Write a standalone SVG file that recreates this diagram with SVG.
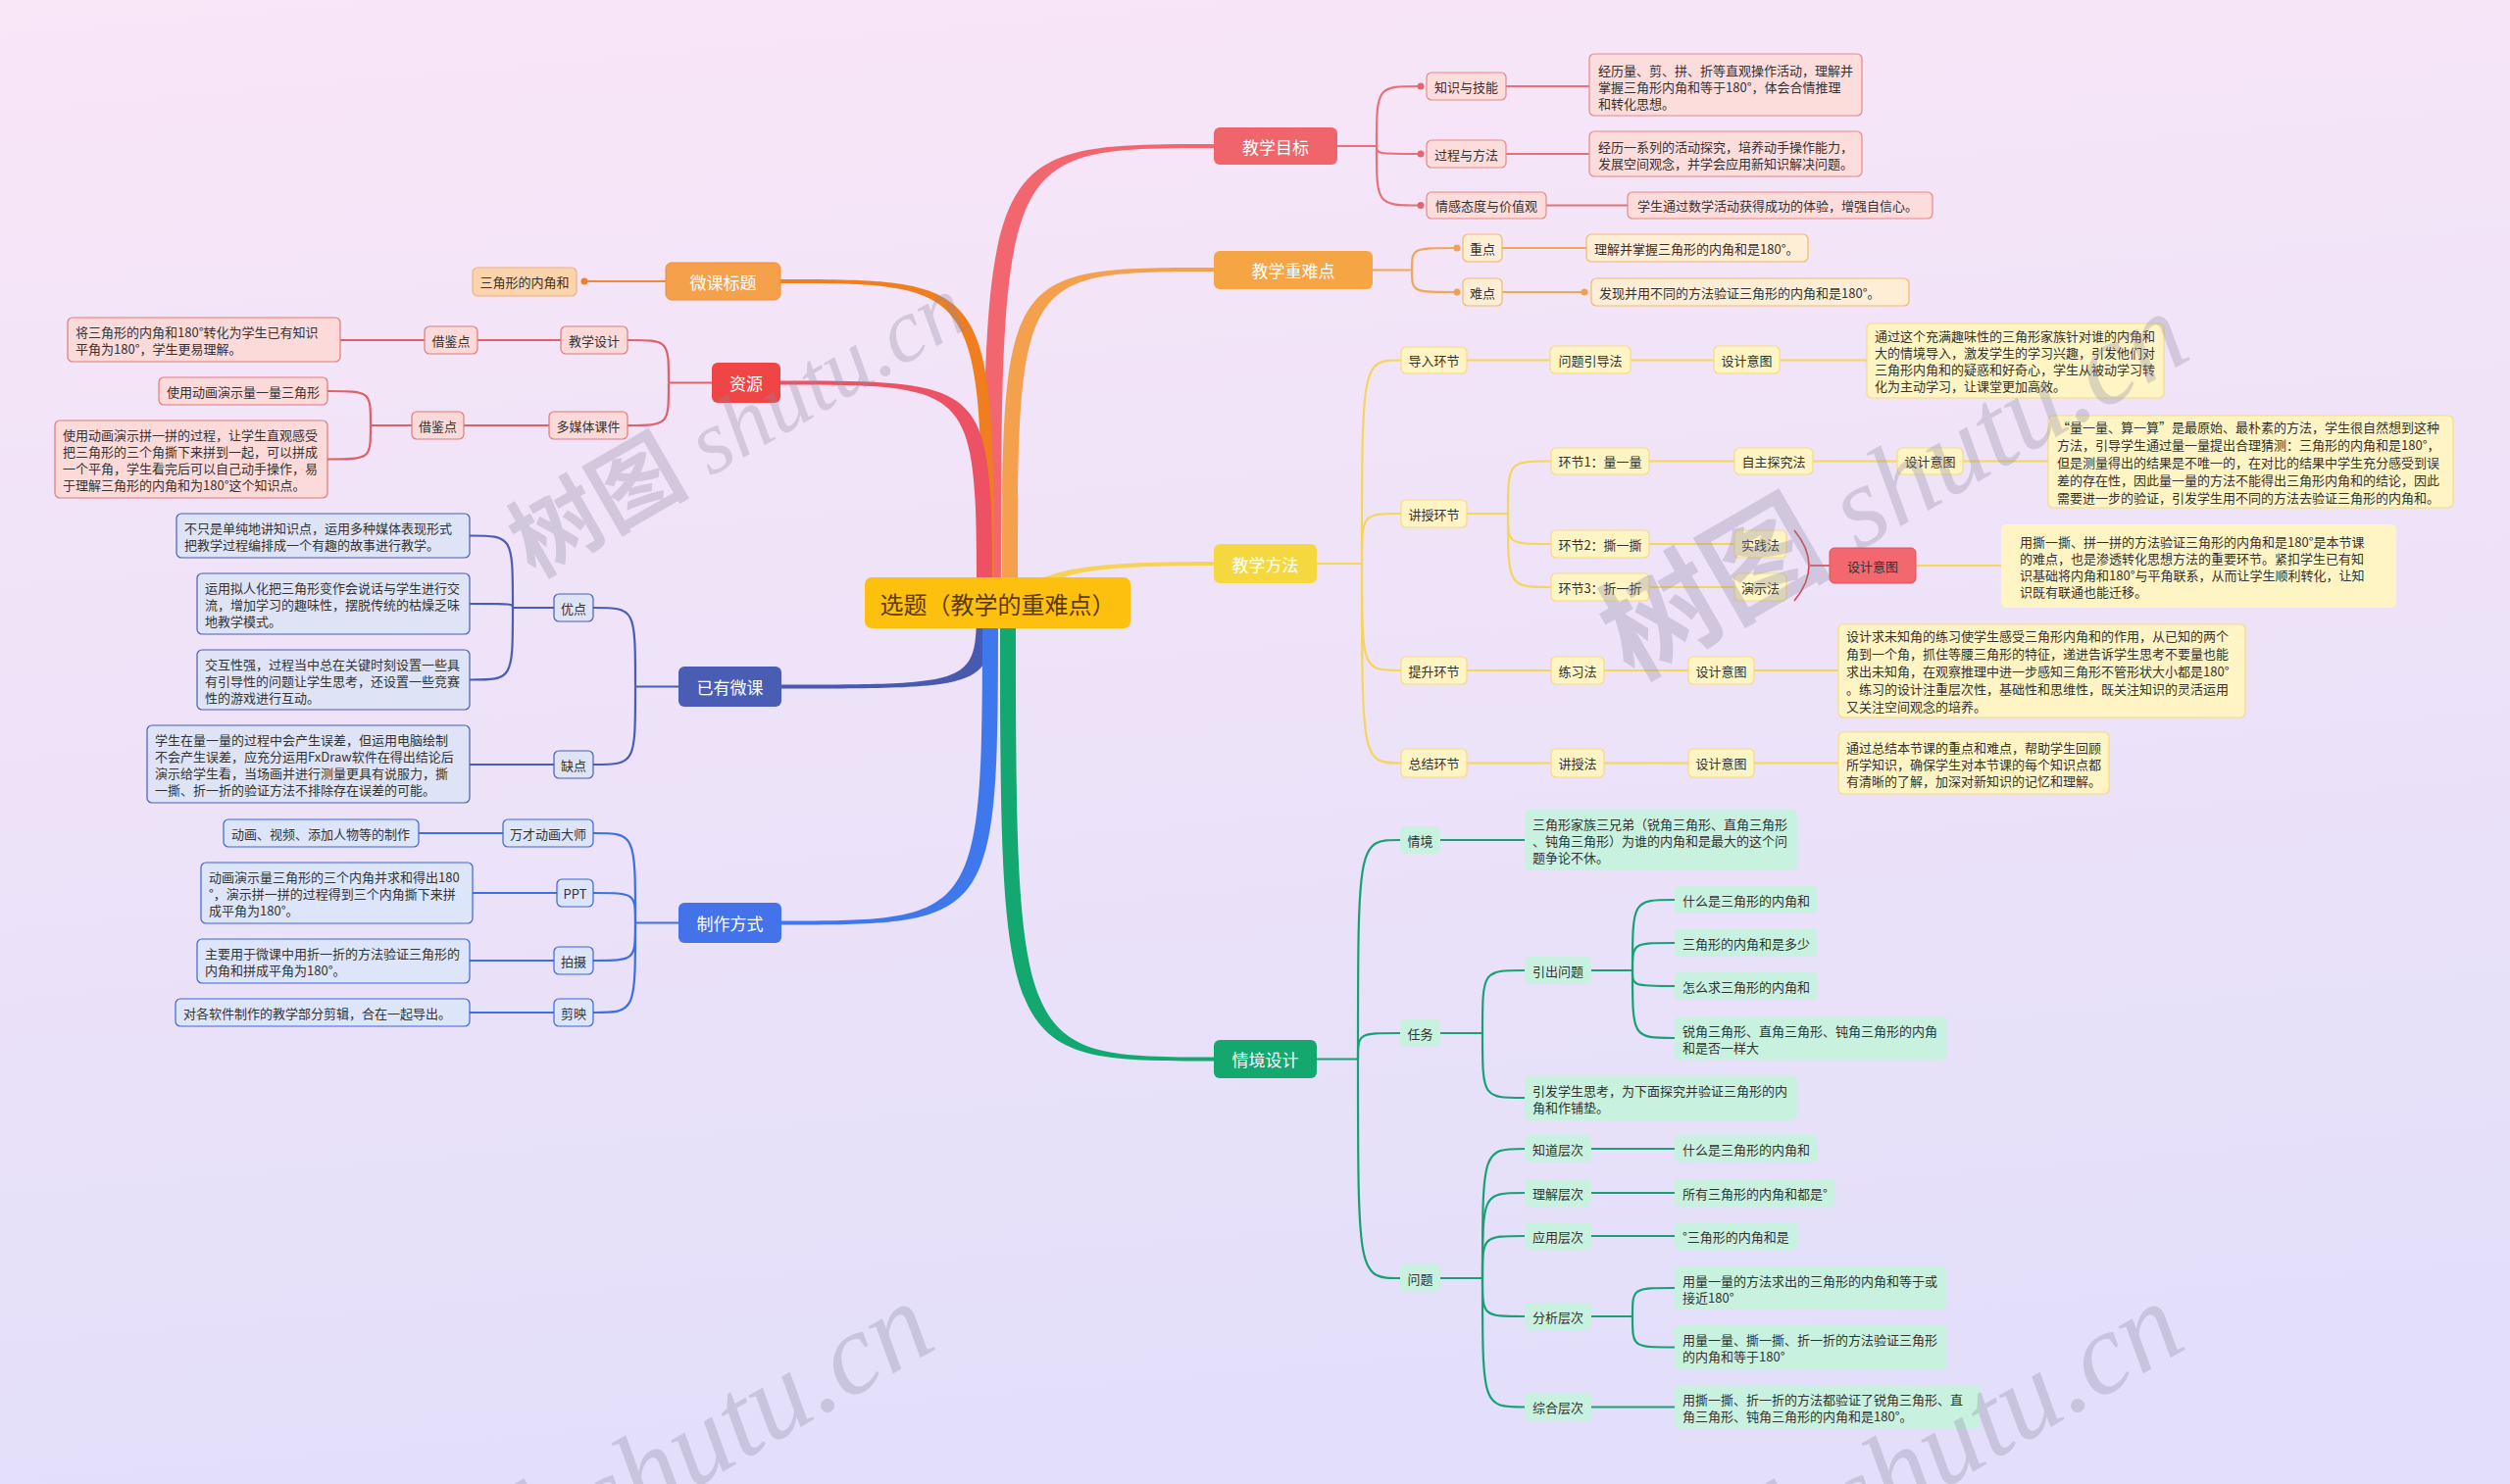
<svg xmlns="http://www.w3.org/2000/svg" width="2560" height="1514" viewBox="0 0 2560 1514">
<defs>
<linearGradient id="bg" x1="0" y1="0" x2="0.15" y2="1">
<stop offset="0" stop-color="#F9E6F7"/>
<stop offset="1" stop-color="#E3DFFA"/>
</linearGradient>
</defs>
<style>
text{font-family:"Noto Sans CJK SC","Noto Sans",sans-serif;dominant-baseline:central}
.s{font-size:13px;fill:#333}
.c{text-anchor:middle}
.m{font-size:17px;fill:#fff;text-anchor:middle}
.wm{font-family:"Liberation Serif","Noto Sans CJK SC",serif;fill:#8C88A0;opacity:0.3;dominant-baseline:alphabetic}
.wm .cj{font-family:"Noto Sans CJK SC",sans-serif;font-weight:bold}
.wm .lt{font-style:italic}
.rN{fill:#FDDCDC;stroke:#E8878A;stroke-width:1.2}
.oN{fill:#FFEED6;stroke:#F4B86A;stroke-width:1.2}
.o2N{fill:#FBD3AC;stroke:#F2B07A;stroke-width:1.2}
.yN{fill:#FFF4C4;stroke:#F5DB80;stroke-width:1.2}
.gN{fill:#C9F1DF}
.bN{fill:#DEE3F5;stroke:#4A5DB4;stroke-width:1.2}
.lN{fill:#DCE5FA;stroke:#3D66D6;stroke-width:1.2}
.rsN{fill:#FCDADA;stroke:#E07B7B;stroke-width:1.2}
.ln{fill:none;stroke-width:2.2}
.lr{stroke:#E8707A}.lo{stroke:#F2A755}.ly{stroke:#F5D55A}.lg{stroke:#16A273}
.lrs{stroke:#E0606A}.lb{stroke:#4A5DB4}.ll{stroke:#3D70E0}.lo2{stroke:#F08A3A}
</style>
<rect width="2560" height="1514" fill="url(#bg)"/>

<g id="connectors">
<path fill="#F26670" d="M1003,615 C1003,147 1003,147 1240,147 L1240,151 C1021,151 1021,151 1021,615 Z"/>
<path fill="#F4A04C" d="M1022,615 C1022,273 1022,273 1240,273 L1240,277 C1038,277 1038,277 1038,615 Z"/>
<path fill="#F07E1E" d="M1014,615 C1014,285 1014,285 794,285 L794,289 C1002,289 1002,289 1002,615 Z"/>
<path fill="#EC5264" d="M1012,615 C1012,388.5 1012,388.5 794,388.5 L794,392.5 C996,392.5 996,392.5 996,615 Z"/>
<path fill="#4859B0" d="M1012,615 C1012,702.5 1012,702.5 795,702.5 L795,698.5 C996,698.5 996,698.5 996,615 Z"/>
<path fill="#3F78EC" d="M1018,615 C1018,943.5 1018,943.5 795,943.5 L795,939.5 C1002,939.5 1002,939.5 1002,615 Z"/>
<path fill="#12A870" d="M1020,615 C1020,1082.5 1020,1082.5 1240,1082.5 L1240,1078.5 C1036,1078.5 1036,1078.5 1036,615 Z"/>
<path fill="#F6D354" d="M1044,606 C1060,579 1120,573 1240,573 L1240,577 C1125,577 1072,583 1062,606 Z"/>

<g class="ln lr">
<path d="M1364,149 H1404"/>
<path d="M1404,149 C1404,88 1404,88 1449,88"/>
<path d="M1404,149 C1404,157 1404,157 1449,157"/>
<path d="M1404,149 C1404,209.5 1404,209.5 1449,209.5"/>
<path d="M1536,88 H1621"/>
<path d="M1536,157 H1621"/>
<path d="M1577,209.5 H1660"/>
</g>
<g fill="#E06670">
<circle cx="1449" cy="88" r="3.5"/><circle cx="1449" cy="157" r="3.5"/><circle cx="1449" cy="209.5" r="3.5"/>
</g>
<g class="ln lo">
<path d="M1400,275.5 H1440"/>
<path d="M1440,275.5 C1440,253 1440,253 1486,253"/>
<path d="M1440,275.5 C1440,298 1440,298 1486,298"/>
<path d="M1532,253 H1618"/>
<path d="M1532,298 H1616"/>
</g>
<g fill="#F0A050">
<circle cx="1486" cy="253" r="3.5"/><circle cx="1486" cy="298" r="3.5"/><circle cx="1616" cy="298" r="3.5"/>
</g>
<g class="ln ly" stroke-width="2.6">
<path d="M1343,575 H1389"/>
<path d="M1389,575 C1389,367.5 1389,367.5 1429,367.5"/>
<path d="M1389,575 C1389,524 1389,524 1429,524"/>
<path d="M1389,575 C1389,684 1389,684 1429,684"/>
<path d="M1389,575 C1389,778.5 1389,778.5 1429,778.5"/>
<path d="M1496,367.5 H1581"/><path d="M1663,367.5 H1748"/><path d="M1815,367.5 H1904"/>
<path d="M1496,524 H1538"/>
<path d="M1538,524 C1538,470.5 1538,470.5 1582,470.5"/>
<path d="M1538,524 C1538,555 1538,555 1582,555"/>
<path d="M1538,524 C1538,599 1538,599 1582,599"/>
<path d="M1682,470.5 H1769"/><path d="M1849,470.5 H1935"/><path d="M2002,470.5 H2089"/>
<path d="M1682,555 H1769"/><path d="M1682,599 H1769"/>
<path d="M1954,577 H2041"/>
<path d="M1496,684 H1582"/><path d="M1636,684 H1722"/><path d="M1789,684 H1875"/>
<path d="M1496,778.5 H1582"/><path d="M1636,778.5 H1722"/><path d="M1789,778.5 H1875"/>
</g>
<path d="M1830,541 Q1860,577 1830,613" fill="none" stroke="#D9434B" stroke-width="1.6"/>
<path d="M1846,577 H1866" fill="none" stroke="#D9434B" stroke-width="1.6"/>
<g class="ln lg" stroke-width="2.6">
<path d="M1343,1080.5 H1385"/>
<path d="M1385,1080.5 C1385,857 1385,857 1428,857"/>
<path d="M1385,1080.5 C1385,1054 1385,1054 1428,1054"/>
<path d="M1385,1080.5 C1385,1304 1385,1304 1428,1304"/>
<path d="M1469,857 H1555"/>
<path d="M1469,1054 H1512"/>
<path d="M1512,1054 C1512,990 1512,990 1555,990"/>
<path d="M1512,1054 C1512,1120 1512,1120 1555,1120"/>
<path d="M1623,990 H1665"/>
<path d="M1665,990 C1665,918 1665,918 1708,918"/>
<path d="M1665,990 C1665,962 1665,962 1708,962"/>
<path d="M1665,990 C1665,1006 1665,1006 1708,1006"/>
<path d="M1665,990 C1665,1059 1665,1059 1708,1059"/>
<path d="M1469,1304 H1512"/>
<path d="M1512,1304 C1512,1172 1512,1172 1555,1172"/>
<path d="M1512,1304 C1512,1217 1512,1217 1555,1217"/>
<path d="M1512,1304 C1512,1261 1512,1261 1555,1261"/>
<path d="M1512,1304 C1512,1343 1512,1343 1555,1343"/>
<path d="M1512,1304 C1512,1435.5 1512,1435.5 1555,1435.5"/>
<path d="M1623,1172 H1708"/><path d="M1623,1217 H1708"/><path d="M1623,1261 H1708"/>
<path d="M1623,1343 H1665"/>
<path d="M1665,1343 C1665,1314 1665,1314 1708,1314"/>
<path d="M1665,1343 C1665,1374.5 1665,1374.5 1708,1374.5"/>
<path d="M1623,1435.5 H1708"/>
</g>
<path class="ln lo2" d="M679,287 H596"/>
<circle cx="596" cy="287" r="3.5" fill="#F08030"/>
<g class="ln lrs" stroke-width="2.6">
<path d="M726,390.5 H682"/>
<path d="M682,390.5 C682,347 682,347 640,347"/>
<path d="M682,390.5 C682,434 682,434 640,434"/>
<path d="M572,347 H487"/><path d="M433,347 H347"/>
<path d="M560,434 H473"/><path d="M420,434 H378"/>
<path d="M378,434 C378,399 378,399 334,399"/>
<path d="M378,434 C378,468.5 378,468.5 334,468.5"/>
</g>
<g class="ln lb" stroke-width="2.6">
<path d="M692,700.5 H648"/>
<path d="M648,700.5 C648,620 648,620 605,620"/>
<path d="M648,700.5 C648,780 648,780 605,780"/>
<path d="M565,620 H523"/>
<path d="M523,620 C523,546.5 523,546.5 479,546.5"/>
<path d="M523,620 C523,616 523,616 479,616"/>
<path d="M523,620 C523,693.5 523,693.5 479,693.5"/>
<path d="M565,780 H479"/>
</g>
<g class="ln ll" stroke-width="2.6">
<path d="M692,941.5 H648"/>
<path d="M648,941.5 C648,850 648,850 605,850"/>
<path d="M648,941.5 C648,911 648,911 605,911"/>
<path d="M648,941.5 C648,980 648,980 605,980"/>
<path d="M648,941.5 C648,1033 648,1033 605,1033"/>
<path d="M513,850 H427"/><path d="M568,911 H482"/><path d="M565,980 H479"/><path d="M565,1033 H479"/>
</g>
</g>

<g id="root">
<rect x="882" y="589" width="271" height="52" rx="7" fill="#FEC00F"/>
<text x="1017.5" y="615" class="c" font-size="24" fill="#5C3A06">选题（教学的重难点）</text>
</g>

<g id="n-jxmb"><rect x="1238" y="130" width="126" height="38" rx="6" fill="#F0646C"/><text class="m" x="1301" y="149">教学目标</text></g>
<g id="n-zsjn"><rect class="rN" x="1455" y="74" width="81" height="28" rx="5"/><text class="s c" x="1495.5" y="88">知识与技能</text></g>
<g id="n-zsjn-t"><rect class="rN" x="1621" y="55" width="278" height="63" rx="5"/><text class="s"><tspan x="1630" y="71">经历量、剪、拼、折等直观操作活动，理解并</tspan><tspan x="1630" y="88">掌握三角形内角和等于180°，体会合情推理</tspan><tspan x="1630" y="105">和转化思想。</tspan></text></g>
<g id="n-gcff"><rect class="rN" x="1455" y="143" width="81" height="28" rx="5"/><text class="s c" x="1495.5" y="157">过程与方法</text></g>
<g id="n-gcff-t"><rect class="rN" x="1621" y="134" width="278" height="46" rx="5"/><text class="s"><tspan x="1630" y="148.5">经历一系列的活动探究，培养动手操作能力，</tspan><tspan x="1630" y="165.5">发展空间观念，并学会应用新知识解决问题。</tspan></text></g>
<g id="n-qgtd"><rect class="rN" x="1455" y="196" width="122" height="27" rx="5"/><text class="s c" x="1516" y="209.5">情感态度与价值观</text></g>
<g id="n-qgtd-t"><rect class="rN" x="1660" y="196" width="311" height="27" rx="5"/><text class="s" x="1670" y="209.5">学生通过数学活动获得成功的体验，增强自信心。</text></g>

<g id="n-zdnd"><rect x="1238" y="256" width="162" height="39" rx="6" fill="#F6A545"/><text class="m" x="1319" y="275.5">教学重难点</text></g>
<g id="n-zd"><rect class="oN" x="1492" y="239" width="40" height="28" rx="5"/><text class="s c" x="1512" y="253">重点</text></g>
<g id="n-zd-t"><rect class="oN" x="1618" y="239" width="226" height="28" rx="5"/><text class="s" x="1626" y="253">理解并掌握三角形的内角和是180°。</text></g>
<g id="n-nd"><rect class="oN" x="1492" y="284" width="40" height="28" rx="5"/><text class="s c" x="1512" y="298">难点</text></g>
<g id="n-nd-t"><rect class="oN" x="1623" y="284" width="324" height="28" rx="5"/><text class="s" x="1631" y="298">发现并用不同的方法验证三角形的内角和是180°。</text></g>

<g id="n-jxff"><rect x="1238" y="555" width="105" height="40" rx="6" fill="#F5D83F"/><text class="m" x="1290.5" y="575">教学方法</text></g>
<g id="n-drhj"><rect class="yN" x="1429" y="354" width="67" height="27" rx="5"/><text class="s c" x="1462.5" y="367.5">导入环节</text></g>
<g id="n-wtydf"><rect class="yN" x="1581" y="353" width="82" height="28" rx="5"/><text class="s c" x="1622" y="367.5">问题引导法</text></g>
<g id="n-sjyt1"><rect class="yN" x="1748" y="353" width="67" height="28" rx="5"/><text class="s c" x="1781.5" y="367.5">设计意图</text></g>
<g id="n-sjyt1-t"><rect class="yN" x="1904" y="330" width="303" height="76" rx="5"/><text class="s"><tspan x="1912" y="342">通过这个充满趣味性的三角形家族针对谁的内角和</tspan><tspan x="1912" y="359">大的情境导入，激发学生的学习兴趣，引发他们对</tspan><tspan x="1912" y="376">三角形内角和的疑惑和好奇心，学生从被动学习转</tspan><tspan x="1912" y="393">化为主动学习，让课堂更加高效。</tspan></text></g>
<g id="n-jshj"><rect class="yN" x="1429" y="510" width="67" height="28" rx="5"/><text class="s c" x="1462.5" y="524">讲授环节</text></g>
<g id="n-hj1"><rect class="yN" x="1582" y="457" width="100" height="27" rx="5"/><text class="s c" x="1632" y="470.5">环节1：量一量</text></g>
<g id="n-zztjf"><rect class="yN" x="1769" y="457" width="80" height="27" rx="5"/><text class="s c" x="1809" y="470.5">自主探究法</text></g>
<g id="n-sjyt2"><rect class="yN" x="1935" y="457" width="67" height="27" rx="5"/><text class="s c" x="1968.5" y="470.5">设计意图</text></g>
<g id="n-sjyt2-t"><rect class="yN" x="2089" y="424" width="413" height="94" rx="5"/><text class="s"><tspan x="2098" y="434.5">“量一量、算一算”是最原始、最朴素的方法，学生很自然想到这种</tspan><tspan x="2098" y="452.5">方法，引导学生通过量一量提出合理猜测：三角形的内角和是180°，</tspan><tspan x="2098" y="470.5">但是测量得出的结果是不唯一的，在对比的结果中学生充分感受到误</tspan><tspan x="2098" y="488.5">差的存在性，因此量一量的方法不能得出三角形内角和的结论，因此</tspan><tspan x="2098" y="506.5">需要进一步的验证，引发学生用不同的方法去验证三角形的内角和。</tspan></text></g>
<g id="n-hj2"><rect class="yN" x="1582" y="541" width="100" height="28" rx="5"/><text class="s c" x="1632" y="555">环节2：撕一撕</text></g>
<g id="n-sjf"><rect class="yN" x="1769" y="541" width="53" height="28" rx="5"/><text class="s c" x="1795.5" y="555">实践法</text></g>
<g id="n-hj3"><rect class="yN" x="1582" y="585" width="100" height="28" rx="5"/><text class="s c" x="1632" y="599">环节3：折一折</text></g>
<g id="n-ysf"><rect class="yN" x="1769" y="585" width="53" height="28" rx="5"/><text class="s c" x="1795.5" y="599">演示法</text></g>
<g id="n-sjyt3"><rect x="1866" y="559" width="88" height="36" rx="5" fill="#F2686E" stroke="#E05058" stroke-width="1"/><text class="s c" x="1910" y="577" fill="#4A1C1C">设计意图</text></g>
<g id="n-sjyt3-t"><rect x="2041" y="535" width="403" height="85" rx="5" fill="#FFF4C4"/><text class="s"><tspan x="2060" y="552">用撕一撕、拼一拼的方法验证三角形的内角和是180°是本节课</tspan><tspan x="2060" y="569">的难点，也是渗透转化思想方法的重要环节。紧扣学生已有知</tspan><tspan x="2060" y="586">识基础将内角和180°与平角联系，从而让学生顺利转化，让知</tspan><tspan x="2060" y="603">识既有联通也能迁移。</tspan></text></g>
<g id="n-tshj"><rect class="yN" x="1429" y="670" width="67" height="28" rx="5"/><text class="s c" x="1462.5" y="684">提升环节</text></g>
<g id="n-lxf"><rect class="yN" x="1582" y="670" width="54" height="28" rx="5"/><text class="s c" x="1609" y="684">练习法</text></g>
<g id="n-sjyt4"><rect class="yN" x="1722" y="670" width="67" height="28" rx="5"/><text class="s c" x="1755.5" y="684">设计意图</text></g>
<g id="n-sjyt4-t"><rect class="yN" x="1875" y="637" width="415" height="95" rx="5"/><text class="s"><tspan x="1883" y="648">设计求未知角的练习使学生感受三角形内角和的作用，从已知的两个</tspan><tspan x="1883" y="666">角到一个角，抓住等腰三角形的特征，递进告诉学生思考不要量也能</tspan><tspan x="1883" y="684">求出未知角，在观察推理中进一步感知三角形不管形状大小都是180°</tspan><tspan x="1883" y="702">。练习的设计注重层次性，基础性和思维性，既关注知识的灵活运用</tspan><tspan x="1883" y="720">又关注空间观念的培养。</tspan></text></g>
<g id="n-zjhj"><rect class="yN" x="1429" y="764" width="67" height="29" rx="5"/><text class="s c" x="1462.5" y="778.5">总结环节</text></g>
<g id="n-jsf"><rect class="yN" x="1582" y="764" width="54" height="29" rx="5"/><text class="s c" x="1609" y="778.5">讲授法</text></g>
<g id="n-sjyt5"><rect class="yN" x="1722" y="764" width="67" height="29" rx="5"/><text class="s c" x="1755.5" y="778.5">设计意图</text></g>
<g id="n-sjyt5-t"><rect class="yN" x="1875" y="747" width="276" height="63" rx="5"/><text class="s"><tspan x="1883" y="761.5">通过总结本节课的重点和难点，帮助学生回顾</tspan><tspan x="1883" y="778.5">所学知识，确保学生对本节课的每个知识点都</tspan><tspan x="1883" y="795.5">有清晰的了解，加深对新知识的记忆和理解。</tspan></text></g>

<g id="n-qjsj"><rect x="1238" y="1061" width="105" height="39" rx="6" fill="#14A86E"/><text class="m" x="1290.5" y="1080.5">情境设计</text></g>
<g id="n-qj"><rect class="gN" x="1428" y="843" width="41" height="28" rx="5"/><text class="s c" x="1448.5" y="857">情境</text></g>
<g id="n-qj-t"><rect class="gN" x="1555" y="826" width="278" height="62" rx="5"/><text class="s"><tspan x="1563" y="840">三角形家族三兄弟（锐角三角形、直角三角形</tspan><tspan x="1563" y="857">、钝角三角形）为谁的内角和是最大的这个问</tspan><tspan x="1563" y="874">题争论不休。</tspan></text></g>
<g id="n-rw"><rect class="gN" x="1428" y="1040" width="41" height="28" rx="5"/><text class="s c" x="1448.5" y="1054">任务</text></g>
<g id="n-ycwt"><rect class="gN" x="1555" y="976" width="68" height="28" rx="5"/><text class="s c" x="1589" y="990">引出问题</text></g>
<g id="n-q1"><rect class="gN" x="1708" y="904" width="146" height="28" rx="5"/><text class="s" x="1716" y="918">什么是三角形的内角和</text></g>
<g id="n-q2"><rect class="gN" x="1708" y="948" width="146" height="28" rx="5"/><text class="s" x="1716" y="962">三角形的内角和是多少</text></g>
<g id="n-q3"><rect class="gN" x="1708" y="992" width="146" height="28" rx="5"/><text class="s" x="1716" y="1006">怎么求三角形的内角和</text></g>
<g id="n-q4"><rect class="gN" x="1708" y="1037" width="278" height="44" rx="5"/><text class="s"><tspan x="1716" y="1050.5">锐角三角形、直角三角形、钝角三角形的内角</tspan><tspan x="1716" y="1067.5">和是否一样大</tspan></text></g>
<g id="n-yfsk"><rect class="gN" x="1555" y="1097" width="278" height="46" rx="5"/><text class="s"><tspan x="1563" y="1111.5">引发学生思考，为下面探究并验证三角形的内</tspan><tspan x="1563" y="1128.5">角和作铺垫。</tspan></text></g>
<g id="n-wt"><rect class="gN" x="1428" y="1290" width="41" height="28" rx="5"/><text class="s c" x="1448.5" y="1304">问题</text></g>
<g id="n-zdcc"><rect class="gN" x="1555" y="1158" width="68" height="28" rx="5"/><text class="s c" x="1589" y="1172">知道层次</text></g>
<g id="n-zdcc-t"><rect class="gN" x="1708" y="1158" width="146" height="28" rx="5"/><text class="s" x="1716" y="1172">什么是三角形的内角和</text></g>
<g id="n-ljcc"><rect class="gN" x="1555" y="1203" width="68" height="28" rx="5"/><text class="s c" x="1589" y="1217">理解层次</text></g>
<g id="n-ljcc-t"><rect class="gN" x="1708" y="1203" width="164" height="28" rx="5"/><text class="s" x="1716" y="1217">所有三角形的内角和都是°</text></g>
<g id="n-yycc"><rect class="gN" x="1555" y="1247" width="68" height="28" rx="5"/><text class="s c" x="1589" y="1261">应用层次</text></g>
<g id="n-yycc-t"><rect class="gN" x="1708" y="1247" width="126" height="28" rx="5"/><text class="s" x="1716" y="1261">°三角形的内角和是</text></g>
<g id="n-fxcc"><rect class="gN" x="1555" y="1329" width="68" height="28" rx="5"/><text class="s c" x="1589" y="1343">分析层次</text></g>
<g id="n-fxcc-t1"><rect class="gN" x="1708" y="1292" width="278" height="44" rx="5"/><text class="s"><tspan x="1716" y="1305.5">用量一量的方法求出的三角形的内角和等于或</tspan><tspan x="1716" y="1322.5">接近180°</tspan></text></g>
<g id="n-fxcc-t2"><rect class="gN" x="1708" y="1352" width="278" height="45" rx="5"/><text class="s"><tspan x="1716" y="1366">用量一量、撕一撕、折一折的方法验证三角形</tspan><tspan x="1716" y="1383">的内角和等于180°</tspan></text></g>
<g id="n-zhcc"><rect class="gN" x="1555" y="1421" width="68" height="29" rx="5"/><text class="s c" x="1589" y="1435.5">综合层次</text></g>
<g id="n-zhcc-t"><rect class="gN" x="1708" y="1413" width="312" height="45" rx="5"/><text class="s"><tspan x="1716" y="1427">用撕一撕、折一折的方法都验证了锐角三角形、直</tspan><tspan x="1716" y="1444">角三角形、钝角三角形的内角和是180°。</tspan></text></g>

<g id="n-wkbt"><rect x="679" y="268" width="117" height="38" rx="6" fill="#F5A14B" stroke="#EE8E32" stroke-width="1"/><text class="m" x="737.5" y="287">微课标题</text></g>
<g id="n-wkbt-t"><rect class="o2N" x="482" y="273" width="106" height="29" rx="5"/><text class="s c" x="535" y="287.5">三角形的内角和</text></g>

<g id="n-zy"><rect x="726" y="370" width="70" height="41" rx="6" fill="#F04545"/><text class="m" x="761" y="390.5">资源</text></g>
<g id="n-jxsj"><rect class="rsN" x="572" y="333" width="68" height="28" rx="5"/><text class="s c" x="606" y="347">教学设计</text></g>
<g id="n-jjd1"><rect class="rsN" x="433" y="333" width="54" height="28" rx="5"/><text class="s c" x="460" y="347">借鉴点</text></g>
<g id="n-jjd1-t"><rect class="rsN" x="69" y="324" width="278" height="45" rx="5"/><text class="s"><tspan x="77" y="338">将三角形的内角和180°转化为学生已有知识</tspan><tspan x="77" y="355">平角为180°，学生更易理解。</tspan></text></g>
<g id="n-dmtkj"><rect class="rsN" x="560" y="420" width="80" height="28" rx="5"/><text class="s c" x="600" y="434">多媒体课件</text></g>
<g id="n-jjd2"><rect class="rsN" x="420" y="420" width="53" height="28" rx="5"/><text class="s c" x="446.5" y="434">借鉴点</text></g>
<g id="n-jjd2-t1"><rect class="rsN" x="162" y="385" width="172" height="28" rx="5"/><text class="s" x="170" y="399">使用动画演示量一量三角形</text></g>
<g id="n-jjd2-t2"><rect class="rsN" x="56" y="429" width="278" height="79" rx="5"/><text class="s"><tspan x="64" y="443">使用动画演示拼一拼的过程，让学生直观感受</tspan><tspan x="64" y="460">把三角形的三个角撕下来拼到一起，可以拼成</tspan><tspan x="64" y="477">一个平角，学生看完后可以自己动手操作，易</tspan><tspan x="64" y="494">于理解三角形的内角和为180°这个知识点。</tspan></text></g>

<g id="n-yywk"><rect x="692" y="680" width="105" height="41" rx="6" fill="#4A5DB4"/><text class="m" x="744.5" y="700.5">已有微课</text></g>
<g id="n-yd"><rect class="bN" x="565" y="606" width="40" height="28" rx="5"/><text class="s c" x="585" y="620">优点</text></g>
<g id="n-yd-t1"><rect class="bN" x="180" y="524" width="299" height="45" rx="5"/><text class="s"><tspan x="188" y="538">不只是单纯地讲知识点，运用多种媒体表现形式</tspan><tspan x="188" y="555">把教学过程编排成一个有趣的故事进行教学。</tspan></text></g>
<g id="n-yd-t2"><rect class="bN" x="201" y="585" width="278" height="62" rx="5"/><text class="s"><tspan x="209" y="599">运用拟人化把三角形变作会说话与学生进行交</tspan><tspan x="209" y="616">流，增加学习的趣味性，摆脱传统的枯燥乏味</tspan><tspan x="209" y="633">地教学模式。</tspan></text></g>
<g id="n-yd-t3"><rect class="bN" x="201" y="663" width="278" height="61" rx="5"/><text class="s"><tspan x="209" y="676.5">交互性强，过程当中总在关键时刻设置一些具</tspan><tspan x="209" y="693.5">有引导性的问题让学生思考，还设置一些竞赛</tspan><tspan x="209" y="710.5">性的游戏进行互动。</tspan></text></g>
<g id="n-qd"><rect class="bN" x="565" y="766" width="40" height="28" rx="5"/><text class="s c" x="585" y="780">缺点</text></g>
<g id="n-qd-t"><rect class="bN" x="150" y="740" width="329" height="79" rx="5"/><text class="s"><tspan x="158" y="754">学生在量一量的过程中会产生误差，但运用电脑绘制</tspan><tspan x="158" y="771">不会产生误差，应充分运用FxDraw软件在得出结论后</tspan><tspan x="158" y="788">演示给学生看，当场画并进行测量更具有说服力，撕</tspan><tspan x="158" y="805">一撕、折一折的验证方法不排除存在误差的可能。</tspan></text></g>

<g id="n-zzfs"><rect x="692" y="921" width="105" height="41" rx="6" fill="#4472E8"/><text class="m" x="744.5" y="941.5">制作方式</text></g>
<g id="n-wc"><rect class="lN" x="513" y="836" width="92" height="28" rx="5"/><text class="s c" x="559" y="850">万才动画大师</text></g>
<g id="n-wc-t"><rect class="lN" x="228" y="836" width="199" height="28" rx="5"/><text class="s" x="236" y="850">动画、视频、添加人物等的制作</text></g>
<g id="n-ppt"><rect class="lN" x="568" y="897" width="37" height="28" rx="5"/><text class="s c" x="586.5" y="911">PPT</text></g>
<g id="n-ppt-t"><rect class="lN" x="205" y="880" width="277" height="62" rx="5"/><text class="s"><tspan x="213" y="894">动画演示量三角形的三个内角并求和得出180</tspan><tspan x="213" y="911">°，演示拼一拼的过程得到三个内角撕下来拼</tspan><tspan x="213" y="928">成平角为180°。</tspan></text></g>
<g id="n-ps"><rect class="lN" x="565" y="966" width="40" height="28" rx="5"/><text class="s c" x="585" y="980">拍摄</text></g>
<g id="n-ps-t"><rect class="lN" x="201" y="958" width="278" height="45" rx="5"/><text class="s"><tspan x="209" y="972">主要用于微课中用折一折的方法验证三角形的</tspan><tspan x="209" y="989">内角和拼成平角为180°。</tspan></text></g>
<g id="n-jy"><rect class="lN" x="565" y="1019" width="40" height="28" rx="5"/><text class="s c" x="585" y="1033">剪映</text></g>
<g id="n-jy-t"><rect class="lN" x="179" y="1019" width="300" height="28" rx="5"/><text class="s" x="187" y="1033">对各软件制作的教学部分剪辑，合在一起导出。</text></g>

<g id="watermarks">
<text class="wm" font-size="92" transform="translate(545,590) rotate(-30)"><tspan class="cj">树图</tspan> <tspan class="lt">shutu.cn</tspan></text>
<text class="wm" font-size="118" transform="translate(1665,695) rotate(-30)"><tspan class="cj">树图</tspan> <tspan class="lt">shutu.cn</tspan></text>
<text class="wm" font-size="118" transform="translate(385,1705) rotate(-30)"><tspan class="cj">树图</tspan> <tspan class="lt">shutu.cn</tspan></text>
<text class="wm" font-size="118" transform="translate(1660,1705) rotate(-30)"><tspan class="cj">树图</tspan> <tspan class="lt">shutu.cn</tspan></text>
</g>
</svg>
